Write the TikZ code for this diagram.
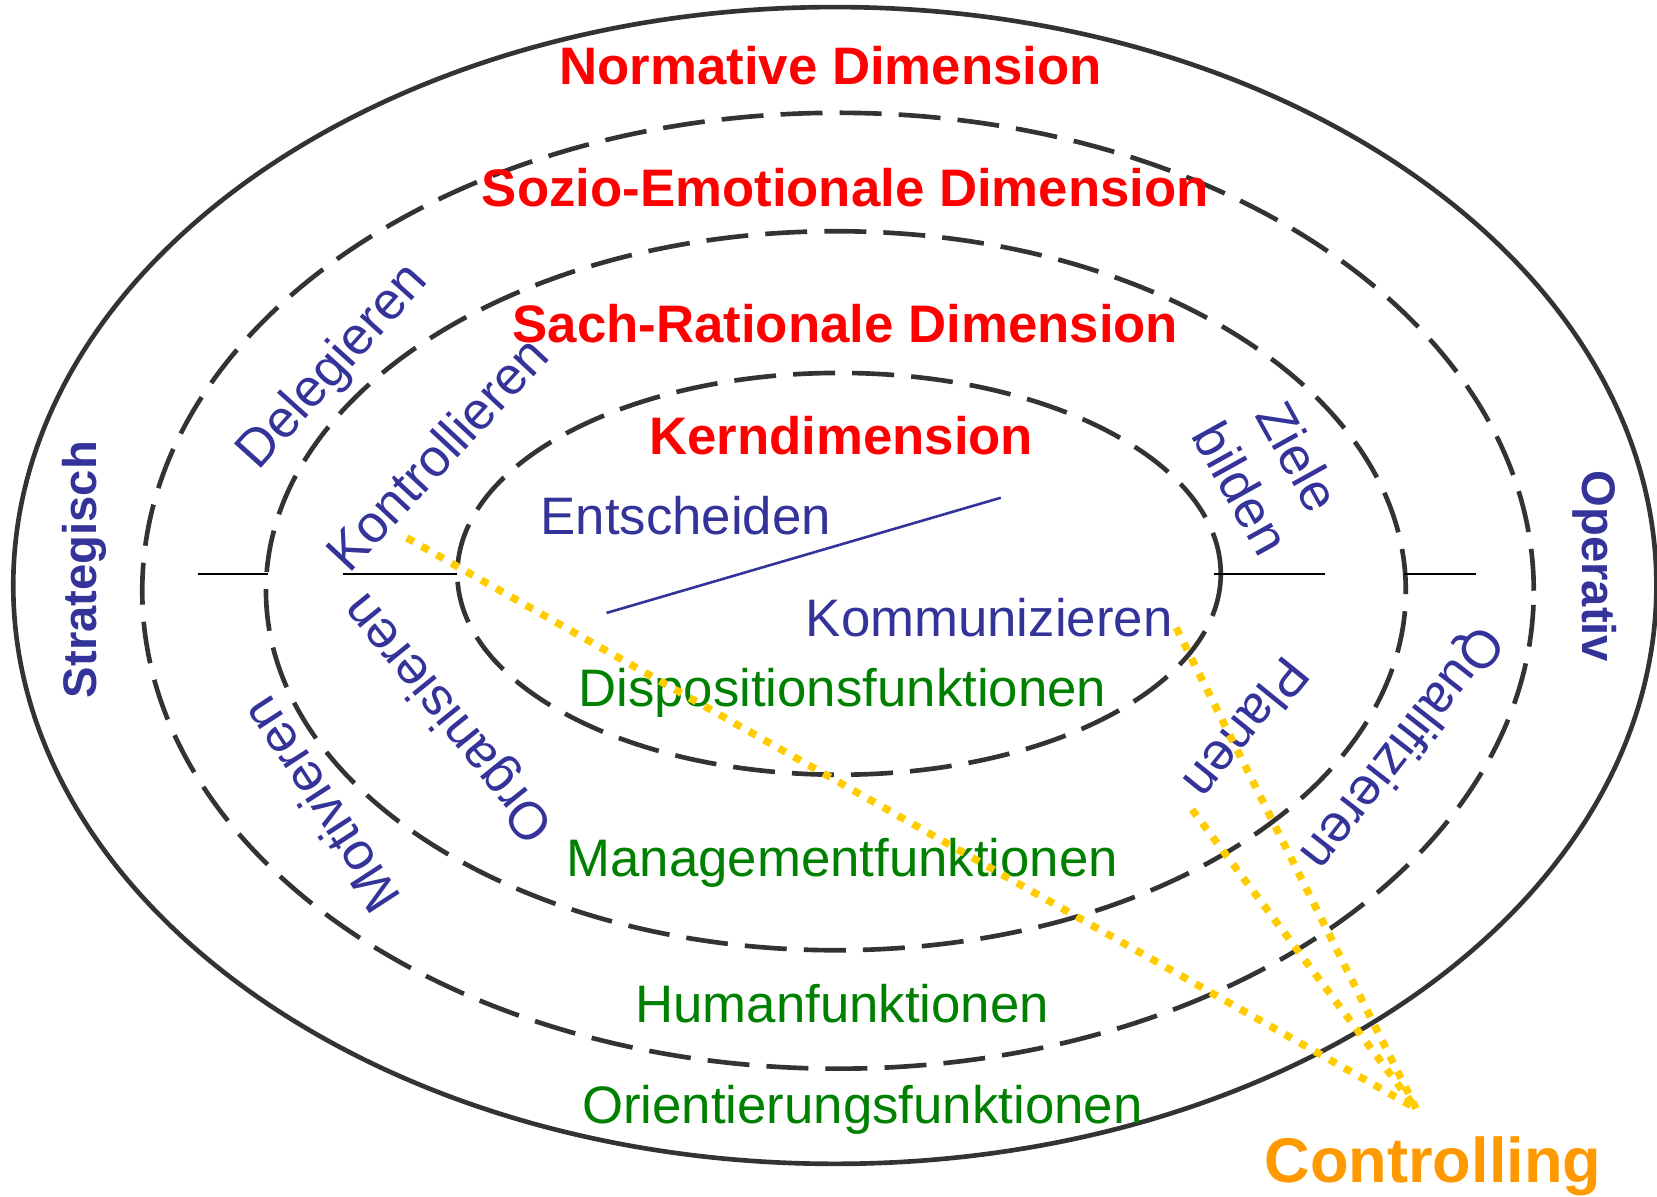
\documentclass[tikz,border=0pt]{standalone}
\usepackage{fontspec}
\setmainfont{Liberation Sans}
\definecolor{dimred}{HTML}{FF0000}
\definecolor{actblue}{HTML}{333399}
\definecolor{funcgreen}{HTML}{008000}
\definecolor{ctrlorange}{HTML}{FF9900}
\definecolor{ctrlyellow}{HTML}{FFCC00}
\definecolor{ringgray}{HTML}{333333}
\newcommand{\ring}[5]{\draw[#1] (#2,#3) ellipse (#4cm and #5cm);}
\newcommand{\tickmark}[3]{\draw[tickline] (#1,#3) -- (#2,#3);}
\tikzset{
  dimtext/.style={text=dimred, font=\bfseries\fontsize{14.2}{17}\selectfont, anchor=base, inner sep=0pt},
  acttext/.style={text=actblue, font=\fontsize{14.2}{17.6}\selectfont, inner sep=0pt},
  functext/.style={text=funcgreen, font=\fontsize{14.2}{17}\selectfont, anchor=base, inner sep=0pt},
  sidetext/.style={text=actblue, font=\bfseries\fontsize{12.7}{15}\selectfont, inner sep=0pt},
  ctrltext/.style={text=ctrlorange, font=\bfseries\fontsize{17}{20}\selectfont, anchor=base, inner sep=0pt},
  ringline/.style={draw=ringgray, line width=1.25pt},
  dashring/.style={ringline, dash pattern=on 11.3pt off 4.6pt},
  tickline/.style={draw=black, line width=0.5pt},
  ctrlline/.style={draw=ctrlyellow, line width=2pt, dash pattern=on 2.1pt off 2.5pt},
}
\begin{document}
\begin{tikzpicture}[x=0.01cm, y=-0.01cm]
    \useasboundingbox (0,0) rectangle (1568,1132);
    % rings
    \ring{ringline}{790}{554}{7.77}{5.47}
    \ring{dashring}{793}{559}{6.58}{4.52}
    \ring{dashring}{791}{559}{5.39}{3.40}
    \ring{dashring}{794}{543}{3.61}{1.90}
    \tickmark{187}{254}{543}
    \tickmark{325}{432}{543}
    \tickmark{1149}{1254}{543}
    \tickmark{1329}{1397}{543}
    % dimensions
    \node[dimtext] (norm) at (786,80) {Normative Dimension};
    \node[dimtext] (sozio) at (800,195) {Sozio-Emotionale Dimension};
    \node[dimtext] (sach) at (800,324) {Sach-Rationale Dimension};
    \node[dimtext] (kern) at (796,430) {Kerndimension};
    % functions
    \node[functext] (dispo) at (797,669) {Dispositionsfunktionen};
    \node[functext] (manage) at (797,829) {Managementfunktionen};
    \node[functext] (human) at (797,968) {Humanfunktionen};
    \node[functext] (orient) at (816,1063) {Orientierungsfunktionen};
    % activities
    \node[acttext, anchor=base] (entsch) at (649,506) {Entscheiden};
    \node[acttext, anchor=base] (komm) at (936,602) {Kommunizieren};
    \node[acttext, rotate=48] (deleg) at (316,348) {Delegieren};
    \node[acttext, rotate=47] (kontr) at (413,429) {Kontrollieren};
    \node[acttext, rotate=129] (organ) at (426,678) {Organisieren};
    \node[acttext, rotate=123] (motiv) at (303,762) {Motivieren};
    \node[acttext, rotate=-61, align=center] (ziele) at (1202,447) {Ziele\\bilden};
    \node[acttext, rotate=231] (planen) at (1180,690) {Planen};
    \node[acttext, rotate=232] (quali) at (1325,707) {Qualifizieren};
    \node[sidetext, rotate=90] (strat) at (80,539) {Strategisch};
    \node[sidetext, rotate=-90] (oper) at (1509,536) {Operativ};
    % links
    \coordinate (entschA) at (574,580);
    \coordinate (entschB) at (947,471);
    \draw[actblue, line width=0.7pt] (entschA) -- (entschB);
    \coordinate (cnt) at (1340,1049);
    \coordinate (kontrend) at (385,509);
    \coordinate (kommend) at (1113,594);
    \coordinate (planend) at (1128,766);
    \draw[ctrlline] (kontrend) -- (cnt);
    \draw[ctrlline] (kommend) -- (cnt);
    \draw[ctrlline] (planend) -- (cnt);
    \node[ctrltext] (ctrl) at (1356,1119) {Controlling};
\end{tikzpicture}
\end{document}
